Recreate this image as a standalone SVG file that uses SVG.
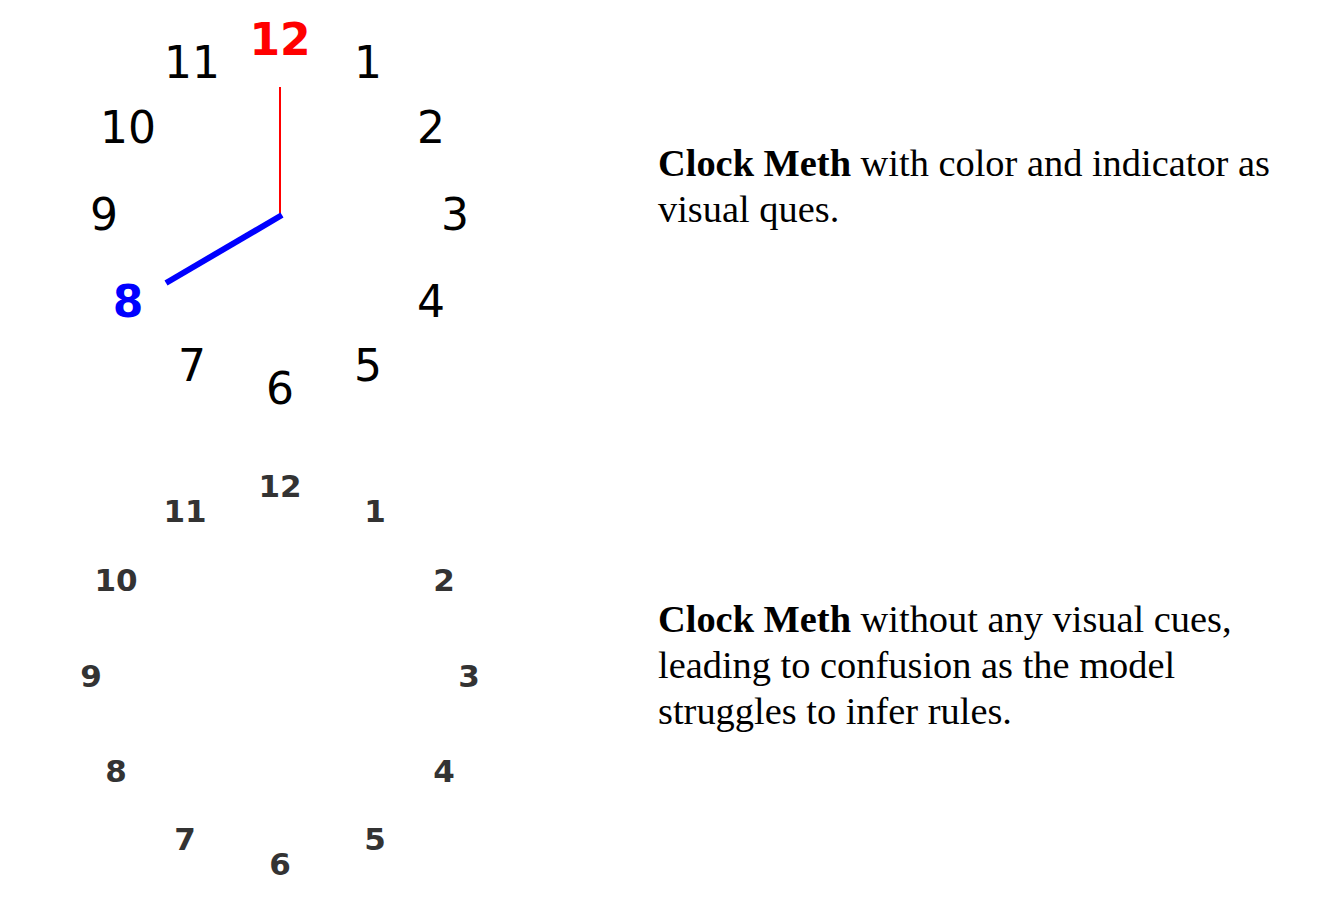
<svg xmlns="http://www.w3.org/2000/svg" width="1324" height="913" viewBox="0 0 1324 913">
<style>
.big{font-family:"DejaVu Sans",sans-serif;font-size:44px;fill:#000;text-anchor:middle}
.bigb{font-weight:bold}
.small{font-family:"DejaVu Sans",sans-serif;font-size:31px;font-weight:bold;fill:#333;text-anchor:middle}
.cap{font-family:"Liberation Serif","Times New Roman",serif;font-size:38.4px;fill:#000}
</style>
<rect width="1324" height="913" fill="#fff"/>
<g id="clock-top">
<text class="big bigb" x="280" y="55" style="fill:#f00">12</text>
<text class="big" x="192" y="78">11</text>
<text class="big" x="368" y="78">1</text>
<text class="big" x="128" y="143">10</text>
<text class="big" x="431" y="143">2</text>
<text class="big" x="104" y="230">9</text>
<text class="big" x="455" y="230">3</text>
<text class="big bigb" x="128" y="317" style="fill:#00f">8</text>
<text class="big" x="431" y="317">4</text>
<text class="big" x="192" y="381">7</text>
<text class="big" x="368" y="381">5</text>
<text class="big" x="280" y="404">6</text>
</g>
<g id="hands">
<line x1="280" y1="87" x2="280" y2="215" stroke="#f00" stroke-width="2"/>
<line x1="282" y1="215" x2="166" y2="283" stroke="#00f" stroke-width="6"/>
</g>
<g id="clock-bottom">
<text class="small" x="280" y="497">12</text>
<text class="small" x="185" y="522">11</text>
<text class="small" x="375" y="522">1</text>
<text class="small" x="116" y="591">10</text>
<text class="small" x="444" y="591">2</text>
<text class="small" x="91" y="687">9</text>
<text class="small" x="469" y="687">3</text>
<text class="small" x="116" y="782">8</text>
<text class="small" x="444" y="782">4</text>
<text class="small" x="185" y="850">7</text>
<text class="small" x="375" y="850">5</text>
<text class="small" x="280" y="875">6</text>
</g>
<g id="caption-top">
<text class="cap" x="658" y="176"><tspan font-weight="bold">Clock Meth</tspan> with color and indicator as</text>
<text class="cap" x="658" y="222">visual ques.</text>
</g>
<g id="caption-bottom">
<text class="cap" x="658" y="632"><tspan font-weight="bold">Clock Meth</tspan> without any visual cues,</text>
<text class="cap" x="658" y="678">leading to confusion as the model</text>
<text class="cap" x="658" y="724">struggles to infer rules.</text>
</g>
</svg>
